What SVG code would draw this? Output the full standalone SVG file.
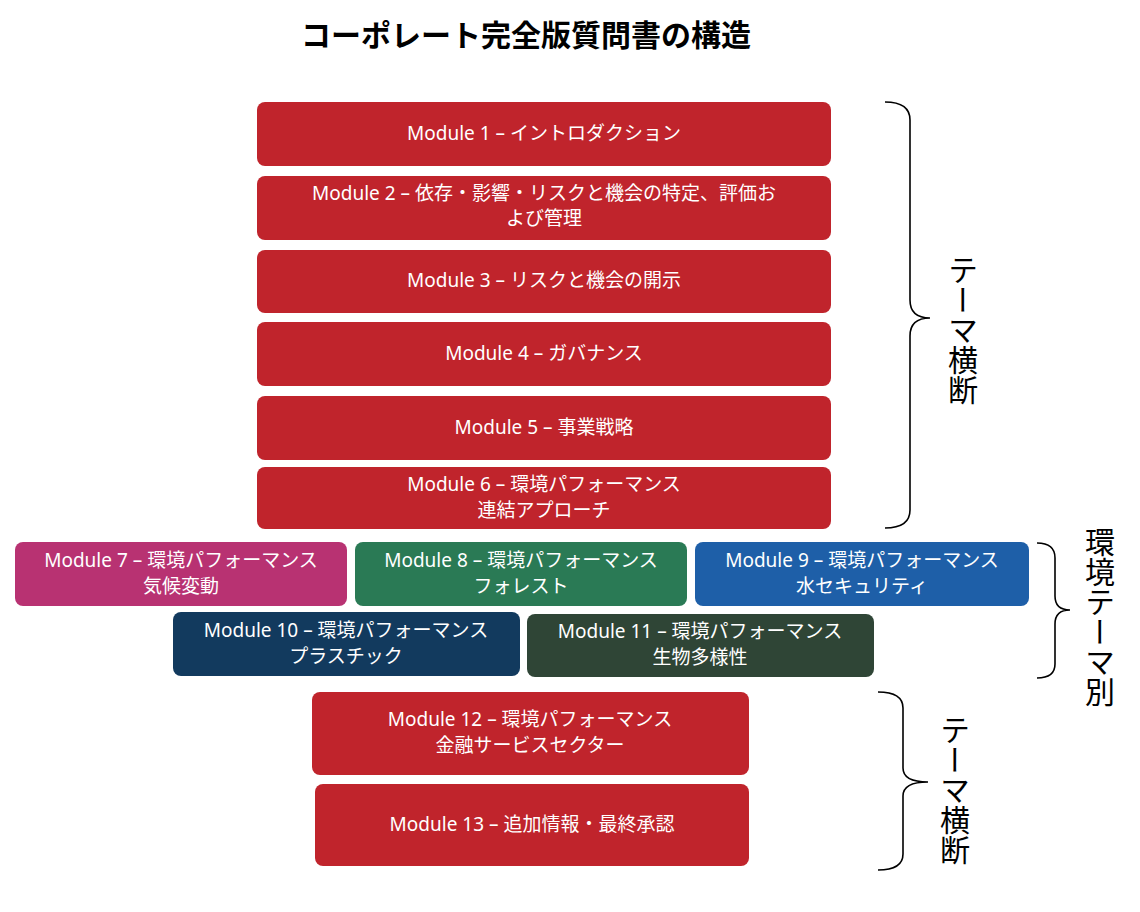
<svg xmlns="http://www.w3.org/2000/svg" width="1140" height="912" viewBox="0 0 1140 912">
<style>
.b{stroke:#ffffff;stroke-width:1}
.t{font-family:"Noto Sans","Noto Sans CJK JP",sans-serif;font-size:19px;fill:#fff;text-anchor:middle}
.v{font-family:"Noto Sans CJK JP",sans-serif;font-size:30px;fill:#000;writing-mode:vertical-rl}
.br{fill:none;stroke:#000;stroke-width:1.6}
</style>
<rect width="1140" height="912" fill="#fff"/>
<text x="526" y="46" font-family="Noto Sans CJK JP,sans-serif" font-size="30" font-weight="bold" text-anchor="middle">コーポレート完全版質問書の構造</text>
<g id="m1"><rect x="257" y="102" width="574" height="64" rx="8" fill="#C0242C"/><text class="t" x="544" y="140">Module 1 – イントロダクション</text></g>
<g id="m2"><rect x="257" y="176" width="574" height="64" rx="8" fill="#C0242C"/><text class="t" x="544" y="200">Module 2 – 依存・影響・リスクと機会の特定、評価お</text><text class="t" x="544" y="225">よび管理</text></g>
<g id="m3"><rect x="257" y="250" width="574" height="63" rx="8" fill="#C0242C"/><text class="t" x="544" y="287">Module 3 – リスクと機会の開示</text></g>
<g id="m4"><rect x="257" y="322" width="574" height="64" rx="8" fill="#C0242C"/><text class="t" x="544" y="360">Module 4 – ガバナンス</text></g>
<g id="m5"><rect x="257" y="396" width="574" height="64" rx="8" fill="#C0242C"/><text class="t" x="544" y="434">Module 5 – 事業戦略</text></g>
<g id="m6"><rect x="257" y="467" width="574" height="62" rx="8" fill="#C0242C"/><text class="t" x="544" y="491">Module 6 – 環境パフォーマンス</text><text class="t" x="544" y="517">連結アプローチ</text></g>
<g id="m7"><rect x="15" y="542" width="332" height="64" rx="8" fill="#B83272"/><text class="t" x="181" y="567">Module 7 – 環境パフォーマンス</text><text class="t" x="181" y="593">気候変動</text></g>
<g id="m8"><rect x="355" y="542" width="332" height="64" rx="8" fill="#2A7A55"/><text class="t" x="521" y="567">Module 8 – 環境パフォーマンス</text><text class="t" x="521" y="593">フォレスト</text></g>
<g id="m9"><rect x="695" y="542" width="334" height="64" rx="8" fill="#1E5FA8"/><text class="t" x="862" y="567">Module 9 – 環境パフォーマンス</text><text class="t" x="862" y="593">水セキュリティ</text></g>
<g id="m10"><rect x="173" y="612" width="347" height="64" rx="8" fill="#123A5E"/><text class="t" x="346" y="637">Module 10 – 環境パフォーマンス</text><text class="t" x="346" y="663">プラスチック</text></g>
<g id="m11"><rect x="527" y="614" width="347" height="63" rx="8" fill="#2F4536"/><text class="t" x="700" y="638">Module 11 – 環境パフォーマンス</text><text class="t" x="700" y="664">生物多様性</text></g>
<g id="m12"><rect x="312" y="692" width="437" height="83" rx="8" fill="#C0242C"/><text class="t" x="530" y="726">Module 12 – 環境パフォーマンス</text><text class="t" x="530" y="752">金融サービスセクター</text></g>
<g id="m13"><rect x="315" y="784" width="434" height="82" rx="8" fill="#C0242C"/><text class="t" x="532" y="831">Module 13 – 追加情報・最終承認</text></g>
<g id="connectors">
<path class="br" d="M885,102 Q910,102 910,120 L910,300 Q910,318 930,318 Q910,318 910,336 L910,510 Q910,528 885,528"/>
<path class="br" d="M1037,543 Q1055,543 1055,558 L1055,596 Q1055,610 1070,610 Q1055,610 1055,624 L1055,664 Q1055,678 1037,678"/>
<path class="br" d="M878,692 Q903,692 903,708 L903,768 Q903,782 928,782 Q903,782 903,796 L903,854 Q903,870 878,870"/>
</g>
<text class="v" x="963" y="255">テーマ横断</text>
<text class="v" x="1100" y="527">環境テーマ別</text>
<text class="v" x="955" y="715">テーマ横断</text>
</svg>
